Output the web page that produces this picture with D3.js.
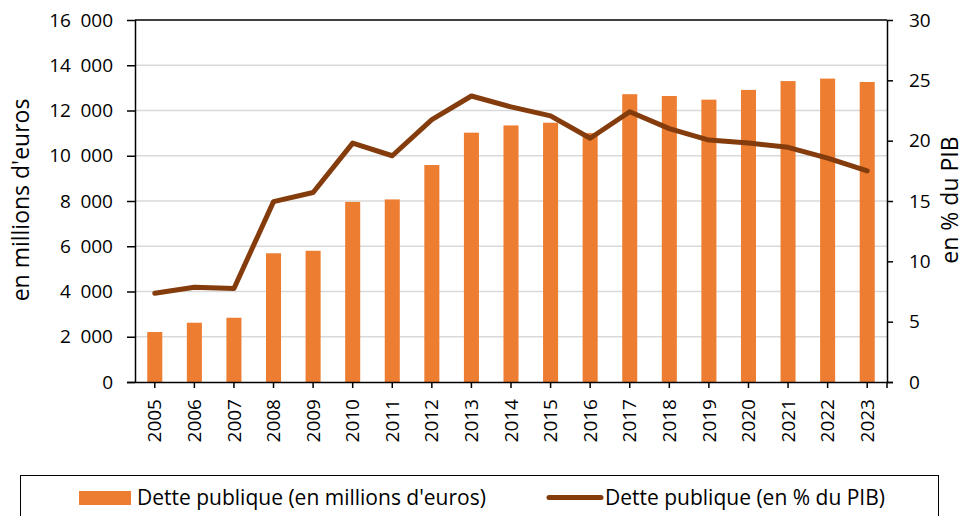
<!DOCTYPE html>
<head>
    <script src="https://d3js.org/d3.v7.min.js"></script>
</head>
<style>
body { margin: 0; background: #fff; font-family: "Open Sans", sans-serif; }
svg text { fill: #000; }
</style>
<body>
<svg></svg>
<script>
    // data
    var years = ["2005","2006","2007","2008","2009","2010","2011","2012","2013","2014","2015","2016","2017","2018","2019","2020","2021","2022","2023"];
    var detteMillions = [2210, 2620, 2840, 5690, 5800, 7960, 8070, 9590, 11020, 11340, 11460, 11000, 12720, 12640, 12480, 12910, 13300, 13410, 13260];
    var dettePib = [7.35, 7.85, 7.75, 14.95, 15.7, 19.8, 18.75, 21.75, 23.7, 22.8, 22.05, 20.2, 22.4, 21.0, 20.05, 19.8, 19.45, 18.55, 17.5];
    var leftTicks = [0, 2000, 4000, 6000, 8000, 10000, 12000, 14000, 16000];
    var rightTicks = [0, 5, 10, 15, 20, 25, 30];
    var seriesNames = ["Dette publique (en millions d'euros)", "Dette publique (en % du PIB)"];

    var width = 971, height = 516;
    var plotL = 135, plotR = 887, plotT = 20, plotB = 382;
    var barColor = "#ED7D31", lineColor = "#843C0C";

    var svg = d3.select("svg").attr("width", width).attr("height", height);

    var x = d3.scaleBand().domain(years).range([plotL, plotR]).paddingInner(0.62).paddingOuter(0.31);
    var yL = d3.scaleLinear().domain([0, 16000]).range([plotB, plotT]);
    var yR = d3.scaleLinear().domain([0, 30]).range([plotB, plotT]);
    var fmt = function(d) { return d3.format(",")(d).replace(/,/g, "\u2002"); };

    // gridlines
    svg.append("g").selectAll("line")
      .data(leftTicks.slice(1, -1))
      .enter().append("line")
      .attr("x1", plotL).attr("x2", plotR)
      .attr("y1", function(d) { return yL(d); }).attr("y2", function(d) { return yL(d); })
      .style("stroke", "#d9d9d9").style("stroke-width", 1.5);

    // top border
    svg.append("line").attr("x1", plotL).attr("x2", plotR).attr("y1", plotT).attr("y2", plotT)
      .style("stroke", "#000").style("stroke-width", 1.5);

    // bars
    svg.append("g").selectAll("rect")
      .data(detteMillions)
      .enter().append("rect")
      .attr("x", function(d, i) { return x(years[i]); })
      .attr("y", function(d) { return yL(d); })
      .attr("width", x.bandwidth())
      .attr("height", function(d) { return plotB - yL(d); })
      .style("fill", barColor);

    // line
    var line = d3.line()
      .x(function(d, i) { return x(years[i]) + x.bandwidth() / 2; })
      .y(function(d) { return yR(d); });
    svg.append("path").datum(dettePib)
      .attr("d", line)
      .style("fill", "none").style("stroke", lineColor)
      .style("stroke-width", 5).style("stroke-linejoin", "round").style("stroke-linecap", "round");

    // axes
    var axisL = svg.append("g").attr("transform", "translate(" + plotL + ",0)")
      .call(d3.axisLeft(yL).tickValues(leftTicks).tickFormat(fmt).tickSize(8).tickPadding(14));
    var axisR = svg.append("g").attr("transform", "translate(" + plotR + ",0)")
      .call(d3.axisRight(yR).tickValues(rightTicks).tickSize(6).tickPadding(16));
    var axisB = svg.append("g").attr("transform", "translate(0," + plotB + ")")
      .call(d3.axisBottom(x).tickSize(6).tickPadding(10).tickSizeOuter(0));
    axisB.select(".domain").attr("d", "M" + (plotL - 8) + ",0.5H" + (plotR + 6));
    axisB.append("line").attr("x1", plotR).attr("x2", plotR).attr("y1", 0).attr("y2", 6)
      .style("stroke", "#000").style("stroke-width", 1.5);

    [axisL, axisR, axisB].forEach(function(a) {
      a.selectAll(".domain").style("stroke", "#000").style("stroke-width", 1.5);
      a.selectAll(".tick line").style("stroke", "#000").style("stroke-width", 1.5);
      a.selectAll("text").style("font-family", "Open Sans").style("font-size", "19px").style("fill", "#000");
    });
    axisL.select(".domain").attr("d", "M0.5," + plotB + "V" + plotT);
    axisR.select(".domain").attr("d", "M0.5," + plotB + "V" + plotT);

    axisB.selectAll(".tick text")
      .attr("transform", "rotate(-90)")
      .attr("text-anchor", "end")
      .attr("x", -17).attr("y", 0).attr("dy", "0.35em");

    // axis titles
    svg.append("text")
      .attr("transform", "translate(29,200)rotate(-90)")
      .attr("text-anchor", "middle")
      .style("font-size", "23px")
      .text("en millions d'euros");
    svg.append("text")
      .attr("transform", "translate(958,200)rotate(-90)")
      .attr("text-anchor", "middle")
      .style("font-size", "23px")
      .text("en % du PIB");

    // legend
    svg.append("rect").attr("x", 20.5).attr("y", 475.5).attr("width", 918).attr("height", 60)
      .style("fill", "none").style("stroke", "#000").style("stroke-width", 1);
    svg.append("rect").attr("x", 79).attr("y", 491).attr("width", 52).attr("height", 14).style("fill", barColor);
    svg.append("line").attr("x1", 549).attr("x2", 601).attr("y1", 497.5).attr("y2", 497.5)
      .style("stroke", lineColor).style("stroke-width", 5).style("stroke-linecap", "round");
    svg.append("text").attr("x", 137).attr("y", 498).attr("dy", "0.35em")
      .style("font-size", "21px").text(seriesNames[0]);
    svg.append("text").attr("x", 605).attr("y", 498).attr("dy", "0.35em")
      .style("font-size", "21px").text(seriesNames[1]);
</script>
</body>
